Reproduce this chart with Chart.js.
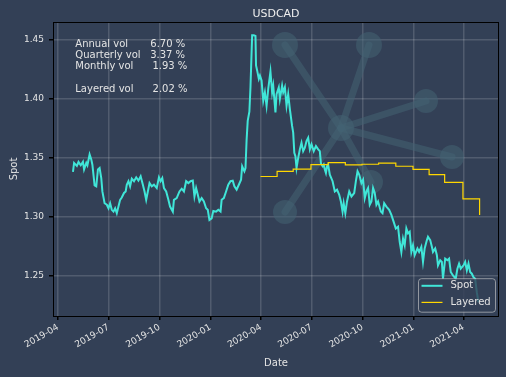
<!DOCTYPE html>
<html>
<head>
<meta charset="utf-8">
<script src="https://cdn.jsdelivr.net/npm/chart.js@4.4.1/dist/chart.umd.min.js"></script>
<style>
  html, body { margin: 0; padding: 0; background: #334056; }
  canvas { display: block; }
</style>
</head>
<body>
<canvas id="chart" width="506" height="377"></canvas>
<script>
// spot series
const spotDates = [
  '2019-04-28','2019-04-30','2019-05-05','2019-05-08','2019-05-12','2019-05-16','2019-05-18','2019-05-22','2019-05-24','2019-05-28',
  '2019-05-31','2019-06-02','2019-06-06','2019-06-09','2019-06-12','2019-06-15','2019-06-18','2019-06-20','2019-06-24','2019-06-28',
  '2019-07-01','2019-07-04','2019-07-07','2019-07-10','2019-07-13','2019-07-16','2019-07-19','2019-07-22','2019-07-25','2019-07-29',
  '2019-08-01','2019-08-03','2019-08-06','2019-08-09','2019-08-12','2019-08-16','2019-08-20','2019-08-24','2019-08-28','2019-09-01',
  '2019-09-04','2019-09-07','2019-09-10','2019-09-13','2019-09-17','2019-09-21','2019-09-26','2019-09-30','2019-10-03','2019-10-06',
  '2019-10-09','2019-10-13','2019-10-17','2019-10-20','2019-10-25','2019-10-27','2019-11-01','2019-11-06','2019-11-10','2019-11-14',
  '2019-11-18','2019-11-22','2019-11-26','2019-11-30','2019-12-03','2019-12-06','2019-12-09','2019-12-12','2019-12-16','2019-12-20',
  '2019-12-24','2019-12-27','2019-12-30','2020-01-03','2020-01-06','2020-01-11','2020-01-15','2020-01-19','2020-01-21','2020-01-25',
  '2020-01-29','2020-02-02','2020-02-06','2020-02-10','2020-02-13','2020-02-17','2020-02-21','2020-02-25','2020-02-27','2020-03-02',
  '2020-03-04','2020-03-06','2020-03-08','2020-03-11','2020-03-13','2020-03-16','2020-03-19','2020-03-22','2020-03-23','2020-03-25',
  '2020-03-28','2020-03-30','2020-04-02','2020-04-05','2020-04-08','2020-04-11','2020-04-14','2020-04-18','2020-04-21','2020-04-23',
  '2020-04-27','2020-04-29','2020-05-03','2020-05-05','2020-05-09','2020-05-11','2020-05-14','2020-05-17','2020-05-20','2020-05-23',
  '2020-05-27','2020-05-29','2020-05-31','2020-06-02','2020-06-04','2020-06-07','2020-06-10','2020-06-13','2020-06-16','2020-06-19',
  '2020-06-22','2020-06-25','2020-06-28','2020-07-01','2020-07-05','2020-07-09','2020-07-13','2020-07-16','2020-07-18','2020-07-21',
  '2020-07-23','2020-07-25','2020-07-27','2020-07-29','2020-07-31','2020-08-03','2020-08-08','2020-08-12','2020-08-16','2020-08-20',
  '2020-08-23','2020-08-26','2020-08-28','2020-08-31','2020-09-03','2020-09-07','2020-09-11','2020-09-16','2020-09-19','2020-09-22',
  '2020-09-25','2020-09-29','2020-10-02','2020-10-05','2020-10-08','2020-10-11','2020-10-14','2020-10-17','2020-10-20','2020-10-23',
  '2020-10-26','2020-10-29','2020-11-03','2020-11-06','2020-11-09','2020-11-13','2020-11-18','2020-11-22','2020-11-26','2020-11-30',
  '2020-12-04','2020-12-07','2020-12-10','2020-12-13','2020-12-16','2020-12-19','2020-12-22','2020-12-25','2020-12-28','2020-12-31',
  '2021-01-03','2021-01-08','2021-01-11','2021-01-15','2021-01-18','2021-01-21','2021-01-25','2021-01-27','2021-01-31','2021-02-03',
  '2021-02-05','2021-02-09','2021-02-12','2021-02-14','2021-02-18','2021-02-21','2021-02-23','2021-02-27','2021-03-03','2021-03-06',
  '2021-03-09','2021-03-13','2021-03-18','2021-03-21','2021-03-24','2021-03-27','2021-04-01','2021-04-04','2021-04-07','2021-04-10',
  '2021-04-13','2021-04-16','2021-04-19','2021-04-22','2021-04-25','2021-04-28'
];
const spotValues = [
  1.338,1.3455,1.343,1.3464,1.3435,1.3464,1.340,1.3455,1.3435,1.3527,
  1.3484,1.344,1.3265,1.3256,1.340,1.3412,1.3327,1.3213,1.3113,1.310,
  1.307,1.3113,1.3057,1.3042,1.307,1.3028,1.3085,1.3142,1.3162,1.320,
  1.3213,1.327,1.330,1.3256,1.3322,1.330,1.3333,1.3305,1.3341,1.327,
  1.3213,1.3142,1.3213,1.3284,1.3256,1.327,1.3242,1.3333,1.330,1.3327,
  1.3242,1.3213,1.3142,1.3085,1.3042,1.3142,1.3156,1.3213,1.3236,1.3213,
  1.330,1.3284,1.330,1.3305,1.317,1.3242,1.3185,1.3128,1.3156,1.3128,
  1.307,1.3057,1.2971,1.2985,1.3048,1.3042,1.3057,1.3042,1.3142,1.3156,
  1.3213,1.327,1.330,1.3305,1.3256,1.3228,1.327,1.3313,1.3427,1.3384,
  1.3412,1.365,1.3812,1.389,1.410,1.4538,1.4538,1.4532,1.4282,1.424,
  1.4168,1.4196,1.4154,1.3983,1.4054,1.394,1.4083,1.423,1.4054,1.4111,
  1.3883,1.4038,1.4096,1.3997,1.4111,1.4054,1.4096,1.394,1.4038,1.3912,
  1.3769,1.3712,1.354,1.3512,1.3412,1.3498,1.357,1.3626,1.3555,1.3584,
  1.3641,1.3669,1.357,1.3613,1.3555,1.3598,1.357,1.3555,1.345,1.3427,
  1.3441,1.340,1.337,1.3427,1.3441,1.3356,1.330,1.3213,1.3228,1.3185,
  1.3128,1.3042,1.3113,1.3028,1.3128,1.3213,1.317,1.320,1.330,1.3384,
  1.3356,1.3284,1.3313,1.3156,1.3213,1.3242,1.310,1.3128,1.3242,1.320,
  1.310,1.3128,1.3042,1.3028,1.3113,1.3085,1.3057,1.3014,1.2957,1.2899,
  1.2914,1.2786,1.270,1.2814,1.2757,1.2899,1.2857,1.2871,1.270,1.2757,
  1.2672,1.2729,1.270,1.2743,1.2615,1.2729,1.280,1.2828,1.280,1.2743,
  1.270,1.2729,1.2672,1.2586,1.2629,1.2615,1.2472,1.2643,1.2629,1.2643,
  1.253,1.250,1.2472,1.2557,1.260,1.2557,1.2586,1.2615,1.2543,1.260,
  1.253,1.2515,1.2486,1.2472,1.2358,1.2272
];

// layered series, monthly steps
const layeredDates = [
  '2020-03-31','2020-04-30','2020-05-29','2020-06-30','2020-07-31','2020-08-31','2020-09-30',
  '2020-10-30','2020-11-30','2020-12-31','2021-01-29','2021-02-26','2021-03-31','2021-04-30'
];
const layeredValues = [
  1.334,1.3384,1.3402,1.3441,1.3458,1.3438,1.3444,
  1.3453,1.3427,1.340,1.3356,1.329,1.315,1.3014
];

const xTickLabels = ['2019-04','2019-07','2019-10','2020-01','2020-04','2020-07','2020-10','2021-01','2021-04'];
const yTicks = [1.25, 1.30, 1.35, 1.40, 1.45];

const volLines = [
  'Annual vol       6.70 %',
  'Quarterly vol   3.37 %',
  'Monthly vol      1.93 %',
  '',
  'Layered vol      2.02 %'
];

const BG = '#334056';
const TXT = '#e4e4e4';
const FONT = 'DejaVu Sans';

const xMin = Date.parse('2019-03-23');
const xMax = Date.parse('2021-06-04');

// background, watermark, frame, title, text box and legend
const decor = {
  id: 'decor',
  beforeDraw(chart) {
    const ctx = chart.ctx;
    ctx.save();
    ctx.fillStyle = BG;
    ctx.fillRect(0, 0, chart.width, chart.height);
    ctx.restore();
  },
  beforeDatasetsDraw(chart) {
    const ctx = chart.ctx;
    const ca = chart.chartArea;
    ctx.save();
    ctx.beginPath();
    ctx.rect(ca.left, ca.top, ca.width, ca.height);
    ctx.clip();
    ctx.fillStyle = 'rgba(68,98,114,0.55)';
    ctx.strokeStyle = 'rgba(68,98,114,0.55)';
    ctx.lineWidth = 7;
    ctx.lineCap = 'round';
    const c = [341, 128];
    const nodes = [[285, 45, 13], [369, 45, 13], [426, 101, 12], [452, 157, 12], [285, 212, 12], [371, 182, 12]];
    nodes.forEach(n => {
      ctx.beginPath();
      ctx.moveTo(c[0], c[1]);
      ctx.lineTo(n[0], n[1]);
      ctx.stroke();
    });
    nodes.concat([[c[0], c[1], 13]]).forEach(n => {
      ctx.beginPath();
      ctx.arc(n[0], n[1], n[2], 0, Math.PI * 2);
      ctx.fill();
    });
    ctx.restore();
  },
  afterDraw(chart) {
    const ctx = chart.ctx;
    const ca = chart.chartArea;
    ctx.save();

    // frame
    ctx.strokeStyle = '#000';
    ctx.lineWidth = 1;
    ctx.strokeRect(Math.round(ca.left) + 0.5, Math.round(ca.top) + 0.5, Math.round(ca.width) - 1, Math.round(ca.height));

    // title
    ctx.fillStyle = '#eeeeee';
    ctx.font = '11px "' + FONT + '"';
    ctx.textAlign = 'center';
    ctx.textBaseline = 'alphabetic';
    ctx.fillText('USDCAD', (ca.left + ca.right) / 2, 16.5);

    // vol text
    ctx.fillStyle = TXT;
    ctx.font = '10px "' + FONT + '"';
    ctx.textAlign = 'left';
    volLines.forEach((t, i) => {
      if (t) ctx.fillText(t, ca.left + 22.3, ca.top + 24.6 + i * 11.35);
    });

    // legend
    const w = 77, h = 33.5;
    const lx = ca.right - 4 - w, ly = ca.bottom - 4.3 - h;
    ctx.beginPath();
    ctx.roundRect(lx + 0.5, ly + 0.5, w, h, 3);
    ctx.fillStyle = 'rgba(51,64,86,0.8)';
    ctx.fill();
    ctx.strokeStyle = 'rgba(210,210,210,0.6)';
    ctx.lineWidth = 1;
    ctx.stroke();
    chart.data.datasets.forEach((ds, i) => {
      const yy = ly + 7.6 + i * 16.6;
      ctx.beginPath();
      ctx.strokeStyle = ds.borderColor;
      ctx.lineWidth = ds.borderWidth;
      ctx.moveTo(lx + 3.5, yy);
      ctx.lineTo(lx + 24.5, yy);
      ctx.stroke();
      ctx.fillStyle = TXT;
      ctx.textBaseline = 'middle';
      ctx.fillText(ds.label, lx + 32.5, yy);
    });
    ctx.restore();
  }
};

new Chart(document.getElementById('chart').getContext('2d'), {
  type: 'line',
  data: {
    datasets: [
      {
        label: 'Spot',
        data: spotDates.map((d, i) => ({ x: Date.parse(d), y: spotValues[i] })),
        borderColor: '#40e6d8',
        borderWidth: 2,
        pointRadius: 0,
        tension: 0,
        order: 1
      },
      {
        label: 'Layered',
        data: layeredDates.map((d, i) => ({ x: Date.parse(d), y: layeredValues[i] })),
        borderColor: '#ffd700',
        borderWidth: 1.2,
        pointRadius: 0,
        stepped: 'before',
        order: 0
      }
    ]
  },
  options: {
    responsive: false,
    animation: false,
    layout: { padding: { left: 0, right: 7, top: 22, bottom: 0 } },
    plugins: {
      legend: { display: false },
      title: { display: false },
      tooltip: { enabled: false }
    },
    scales: {
      x: {
        type: 'linear',
        min: xMin,
        max: xMax,
        afterBuildTicks: s => { s.ticks = xTickLabels.map(l => ({ value: Date.parse(l + '-01') })); },
        afterFit: s => { s.height = 61; },
        ticks: {
          color: TXT,
          font: { family: FONT, size: 9 },
          minRotation: 30,
          maxRotation: 30,
          autoSkip: false,
          padding: 2,
          callback: (v, i) => xTickLabels[i]
        },
        grid: { color: 'rgba(255,255,255,0.15)', lineWidth: 1.5, tickColor: '#000', tickLength: 4 },
        border: { display: false },
        title: { display: true, text: 'Date', color: TXT, font: { family: FONT, size: 10 }, padding: { top: 0, bottom: 8 } }
      },
      y: {
        min: 1.2156,
        max: 1.4651,
        afterBuildTicks: s => { s.ticks = yTicks.map(v => ({ value: v })); },
        afterFit: s => { s.width = 53; },
        ticks: {
          color: TXT,
          font: { family: FONT, size: 9 },
          padding: 5,
          callback: v => v.toFixed(2)
        },
        grid: { color: 'rgba(255,255,255,0.15)', lineWidth: 1.5, tickColor: '#000', tickLength: 4 },
        border: { display: false },
        title: { display: true, text: 'Spot', color: TXT, font: { family: FONT, size: 10 }, padding: { top: 8, bottom: 0 } }
      }
    }
  },
  plugins: [decor]
});
</script>
</body>
</html>
